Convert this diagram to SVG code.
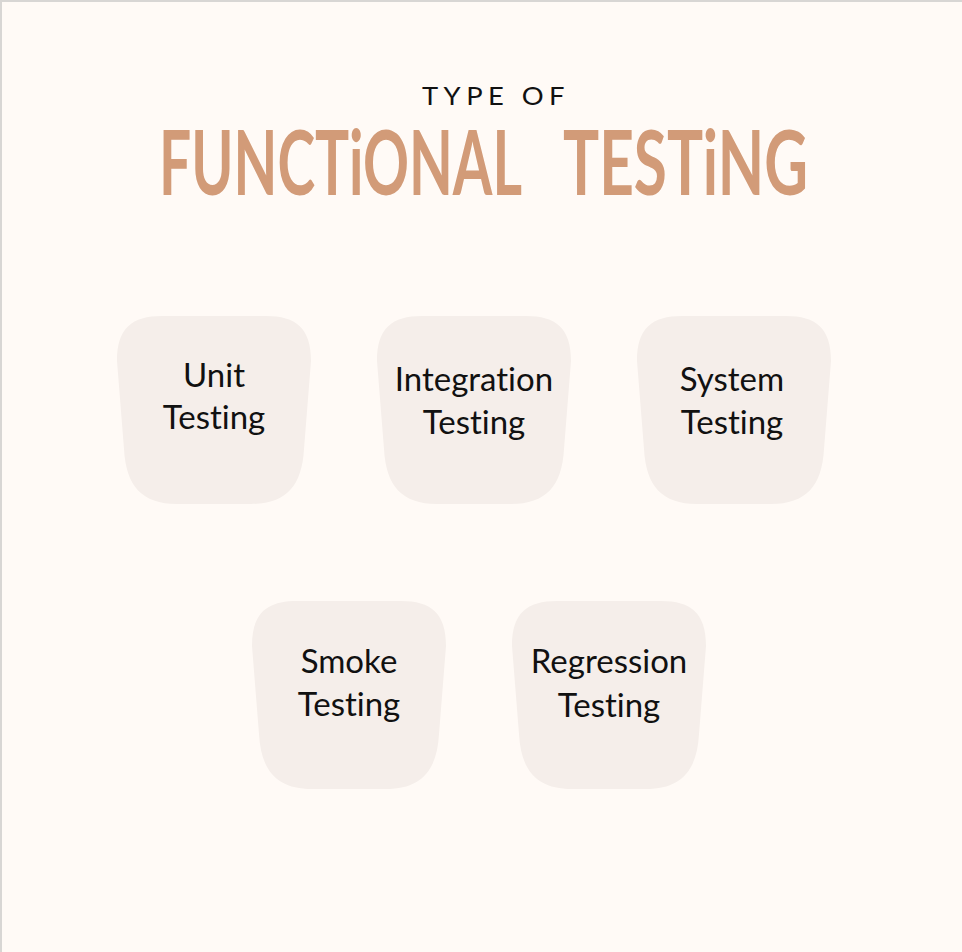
<svg xmlns="http://www.w3.org/2000/svg" xmlns:xlink="http://www.w3.org/1999/xlink" width="962" height="952" viewBox="0 0 962 952">
  <style>
    .bg { fill: #FFFAF6; }
    .frame { stroke: #D8D6D4; stroke-width: 2; fill: none; }
    .box { fill: #F5EEEA; }
    .label { font-family: "Lato", "Open Sans", "Liberation Sans", sans-serif; font-size: 33px; fill: #111111; text-anchor: middle; font-variant-ligatures: none; }
    .sub { font-family: "Lato", "Open Sans", "Liberation Sans", sans-serif; font-size: 25px; fill: #111111; letter-spacing: 5px; }
    .title { font-family: "Lato", "Open Sans", "Liberation Sans", sans-serif; font-weight: 700; font-size: 90px; fill: #D29B78; font-variant-ligatures: none; }
  </style>
  <defs>
    <path id="blob" d="M45,0 L149,0 C179,0 194,12 194,45 L187,133 C185,170 169,188 134,188 L60,188 C25,188 9,170 7,133 L0,45 C0,12 15,0 45,0 Z"/>
  </defs>
  <rect class="bg" x="0" y="0" width="962" height="952"/>
  <path class="frame" d="M1,952 L1,1 L962,1"/>

  <g id="header">
    <text class="sub" x="422" y="105" textLength="148" lengthAdjust="spacingAndGlyphs">TYPE OF</text>
    <text class="title" x="159" y="195" textLength="363" lengthAdjust="spacingAndGlyphs">FUNCTiONAL</text>
    <text class="title" x="563" y="195" textLength="245" lengthAdjust="spacingAndGlyphs">TESTiNG</text>
  </g>

  <g id="connectors"></g>

  <g id="node-unit">
    <use xlink:href="#blob" href="#blob" class="box" x="117" y="316"/>
    <text class="label" x="214" y="387">Unit</text>
    <text class="label" x="214" y="429">Testing</text>
  </g>
  <g id="node-integration">
    <use xlink:href="#blob" href="#blob" class="box" x="377" y="316"/>
    <text class="label" x="474" y="391">Integration</text>
    <text class="label" x="474" y="434">Testing</text>
  </g>
  <g id="node-system">
    <use xlink:href="#blob" href="#blob" class="box" x="637" y="316"/>
    <text class="label" x="732" y="391">System</text>
    <text class="label" x="732" y="434">Testing</text>
  </g>
  <g id="node-smoke">
    <use xlink:href="#blob" href="#blob" class="box" x="252" y="601"/>
    <text class="label" x="349" y="673">Smoke</text>
    <text class="label" x="349" y="716">Testing</text>
  </g>
  <g id="node-regression">
    <use xlink:href="#blob" href="#blob" class="box" x="512" y="601"/>
    <text class="label" x="609" y="673">Regression</text>
    <text class="label" x="609" y="717">Testing</text>
  </g>
</svg>
